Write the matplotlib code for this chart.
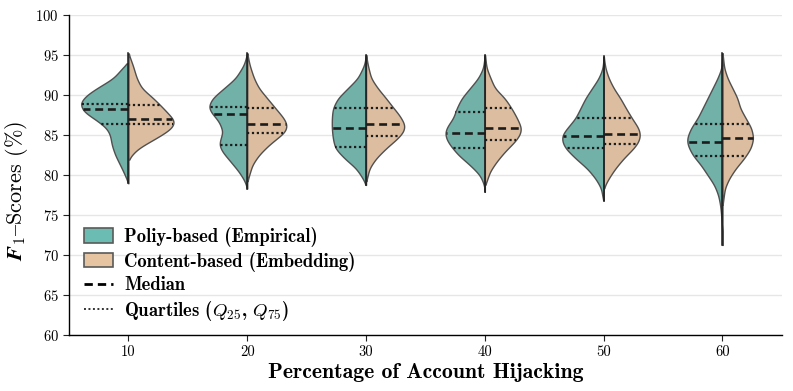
import numpy as np
import matplotlib
matplotlib.use("Agg")
import matplotlib.pyplot as plt
from matplotlib.patches import Patch
from matplotlib.lines import Line2D

plt.rcParams['font.family'] = ['cmr10', 'DejaVu Serif']
plt.rcParams['mathtext.fontset'] = 'cm'
plt.rcParams['axes.formatter.use_mathtext'] = True

# Porcentaje de cuentas secuestradas
categories = [10, 20, 30, 40, 50, 60]

# Cuartiles y medianas (F1 %)
policy_q25 = [86.4, 83.75, 83.55, 83.4, 83.35, 82.4]
policy_median = [88.2, 87.65, 85.9, 85.3, 84.9, 84.1]
policy_q75 = [88.9, 88.55, 88.4, 87.9, 87.15, 86.4]
content_q25 = [86.4, 85.3, 84.9, 84.35, 83.85, 82.4]
content_median = [87.0, 86.35, 86.35, 85.9, 85.1, 84.6]
content_q75 = [88.75, 88.4, 88.4, 88.4, 87.15, 86.4]

# Perfil de densidad: (F1, semi-ancho en px)
policy_shape = [
    [(93.96, 0), (93.75, 3.3), (92.08, 15), (90.83, 31.7), (90.0, 41.7), (89.17, 47.7), (88.83, 48.3),
     (87.92, 45), (86.67, 30), (85.83, 21.7), (85.0, 18.3), (83.75, 16.7), (82.5, 13.3), (81.67, 10),
     (80.4, 5), (78.96, 0)],
    [(95.2, 0), (93.75, 3.3), (92.08, 11.7), (90.83, 23.3), (89.58, 35), (88.54, 39), (87.9, 36.7),
     (86.67, 28.3), (85.4, 24.3), (84.58, 26.7), (83.75, 28.3), (82.9, 25), (81.67, 16.7), (80.4, 8.3),
     (79.2, 2.3), (78.3, 0)],
    [(95.0, 0), (93.75, 1.7), (92.08, 8.3), (90.83, 18.3), (89.58, 28.3), (88.33, 33.3), (87.08, 34.3),
     (85.83, 34.3), (84.58, 33.3), (83.33, 31), (82.08, 21.7), (80.83, 10), (79.58, 3.3), (78.75, 0)],
    [(95.0, 0), (93.33, 1.7), (92.08, 6.7), (90.83, 15), (89.58, 23.3), (88.33, 28.3), (87.08, 31.7),
     (86.25, 36.7), (85.42, 40), (84.58, 39), (83.75, 35), (82.5, 26.7), (81.25, 15), (80.0, 5),
     (78.75, 0.7), (77.9, 0)],
    [(94.8, 0), (93.33, 1), (92.08, 5), (90.83, 11.7), (89.58, 18.3), (88.33, 23.3), (87.08, 28.3),
     (85.83, 36.7), (85.0, 41.7), (84.17, 41.7), (83.33, 38.3), (82.08, 28.3), (80.83, 16.7),
     (79.58, 8.3), (78.33, 2.5), (77.1, 1), (76.8, 0)],
    [(95.2, 0), (93.33, 1), (92.08, 5), (90.83, 10), (89.58, 15), (88.33, 20), (87.08, 25),
     (85.83, 31.7), (84.58, 35.7), (83.75, 35), (82.5, 30), (81.25, 21.7), (80.0, 15), (78.75, 8.3),
     (77.5, 4.3), (76.25, 2.3), (74.58, 1), (72.92, 0.3), (71.25, 0)],
]
content_shape = [
    [(95.2, 0), (94.5, 2), (93.75, 4.3), (92.08, 8.3), (90.83, 13.3), (89.58, 25), (88.33, 35),
     (87.08, 44.3), (86.67, 46.7), (85.83, 43.3), (85.0, 33.3), (84.17, 21.7), (83.33, 10),
     (82.5, 3.3), (81.9, 0)],
    [(95.2, 0), (93.75, 2.3), (92.08, 6.7), (90.83, 11.7), (89.58, 20), (88.33, 28.3), (87.08, 36.7),
     (86.25, 40), (85.42, 38.3), (84.58, 30), (83.75, 21.7), (82.5, 11.7), (81.25, 5), (79.58, 1),
     (79.2, 0)],
    [(95.0, 0), (93.75, 1.7), (92.08, 5), (90.83, 11.7), (89.58, 20), (88.33, 27.7), (87.5, 33.3),
     (86.25, 39), (85.42, 37.7), (84.58, 31.7), (83.33, 20), (82.08, 10), (80.83, 3.3), (79.58, 1),
     (79.2, 0)],
    [(95.0, 0), (93.33, 1.7), (92.08, 5.7), (90.83, 10), (89.58, 20), (88.33, 26.7), (87.08, 32.3),
     (85.83, 36.7), (85.0, 35), (84.17, 30), (82.92, 20), (81.67, 11.7), (80.42, 5), (79.17, 1.7),
     (78.75, 0)],
    [(94.8, 0), (93.33, 1.7), (92.08, 5), (90.83, 10), (89.58, 16.7), (88.33, 22.3), (87.08, 28.3),
     (85.83, 35), (85.0, 36.7), (84.17, 35), (83.33, 30), (82.08, 20), (80.83, 11.7), (79.58, 5),
     (78.75, 1.5), (78.3, 0)],
    [(95.2, 0), (93.33, 1.7), (92.08, 5), (90.83, 10), (89.58, 15), (88.33, 17.7), (87.08, 23.3),
     (85.83, 29), (84.58, 31), (83.33, 28.3), (82.08, 21.7), (80.83, 13.3), (79.58, 6.7), (78.33, 2.3),
     (77.08, 1), (76.25, 0)],
]

color_policy = '#71b1a8'
color_content = '#dcbda0'
px_per_unit = 119.0


def smooth_profile(shape):
    pts = sorted(shape)
    ys = np.array([p[0] for p in pts])
    ws = np.array([p[1] for p in pts]) / px_per_unit
    yy = np.linspace(ys.min(), ys.max(), 400)
    ww = np.interp(yy, ys, ws)
    step = yy[1] - yy[0]
    k = np.arange(-int(0.4 / step) * 3, int(0.4 / step) * 3 + 1) * step
    kern = np.exp(-0.5 * (k / 0.4) ** 2)
    kern /= kern.sum()
    pad = len(k) // 2
    ww2 = np.convolve(np.pad(ww, pad), kern, mode='same')[pad:-pad]
    ww2[0] = 0
    ww2[-1] = 0
    return yy, ww2


fig, ax = plt.subplots(figsize=(7.93, 3.91), dpi=100)
fig.subplots_adjust(left=0.087, right=0.986, bottom=0.143, top=0.962)

for i in range(len(categories)):
    ext = []
    for shape, col, side, qs in [
        (policy_shape[i], color_policy, -1, (policy_q25[i], policy_median[i], policy_q75[i])),
        (content_shape[i], color_content, 1, (content_q25[i], content_median[i], content_q75[i])),
    ]:
        yy, ww = smooth_profile(shape)
        ext += [yy.min(), yy.max()]
        if side < 0:
            ax.fill_betweenx(yy, i - ww, i, facecolor=col, edgecolor='#505050', lw=1.0, zorder=2)
        else:
            ax.fill_betweenx(yy, i, i + ww, facecolor=col, edgecolor='#505050', lw=1.0, zorder=2)
        for j, q in enumerate(qs):
            w = np.interp(q, yy, ww)
            ls = (0, (3.0, 1.8)) if j == 1 else (0, (1, 1.2))
            lw = 1.9 if j == 1 else 1.6
            ax.plot([i, i + side * w], [q, q], color='#1c1c1c', lw=lw, ls=ls,
                    solid_capstyle='butt', dash_capstyle='butt', zorder=3)
    ax.plot([i, i], [min(ext), max(ext)], color='#1a1a1a', lw=1.1, zorder=4)

ax.set_xlim(-0.5, len(categories) - 0.5)
ax.set_ylim(60, 100)
ax.set_xticks(range(len(categories)))
ax.set_xticklabels([str(c) for c in categories])
ax.set_yticks(np.arange(60, 101, 5))
ax.tick_params(labelsize=10.5, length=4, width=0.8, color='#222')
ax.yaxis.grid(True, color='#e6e6e6', lw=1.0, zorder=0)
ax.set_axisbelow(True)
for s in ['top', 'right']:
    ax.spines[s].set_visible(False)
for s in ['left', 'bottom']:
    ax.spines[s].set_linewidth(1.0)

ax.set_xlabel('Percentage of Account Hijacking', fontsize=15.7, family='cmb10', labelpad=3)
# '{' en cmr10 corresponde al guion medio (codificacion OT1)
ylab = ax.set_ylabel(r'$\mathbfit{F}_1$' + '{Scores (%)', fontsize=16)
ax.yaxis.set_label_coords(-0.054, 0.45)
try:
    fig.canvas.draw()
except Exception:
    ylab.set_text(r'$\mathbf{F}_1$' + '{Scores (%)')

handles = [
    Patch(facecolor='#6bbcb2', edgecolor='#5a5a5a', lw=1.2),
    Patch(facecolor='#e6c3a1', edgecolor='#5a5a5a', lw=1.2),
    Line2D([], [], color='black', lw=2.0, ls=(0, (3.0, 1.8))),
    Line2D([], [], color='#333', lw=1.4, ls=(0, (1, 1.3))),
]
labels = ['Poliy-based (Empirical)', 'Content-based (Embedding)', 'Median',
          r'Quartiles ($Q_{25}$, $Q_{75}$)']
ax.legend(handles, labels, loc='lower left', bbox_to_anchor=(0.004, 0.0), frameon=False,
          prop={'family': 'cmb10', 'size': 13.4}, handlelength=1.55, handleheight=0.8,
          handletextpad=0.6, labelspacing=0.25, borderaxespad=0.15, borderpad=0.5)

fig.savefig('out.png', dpi=100)
